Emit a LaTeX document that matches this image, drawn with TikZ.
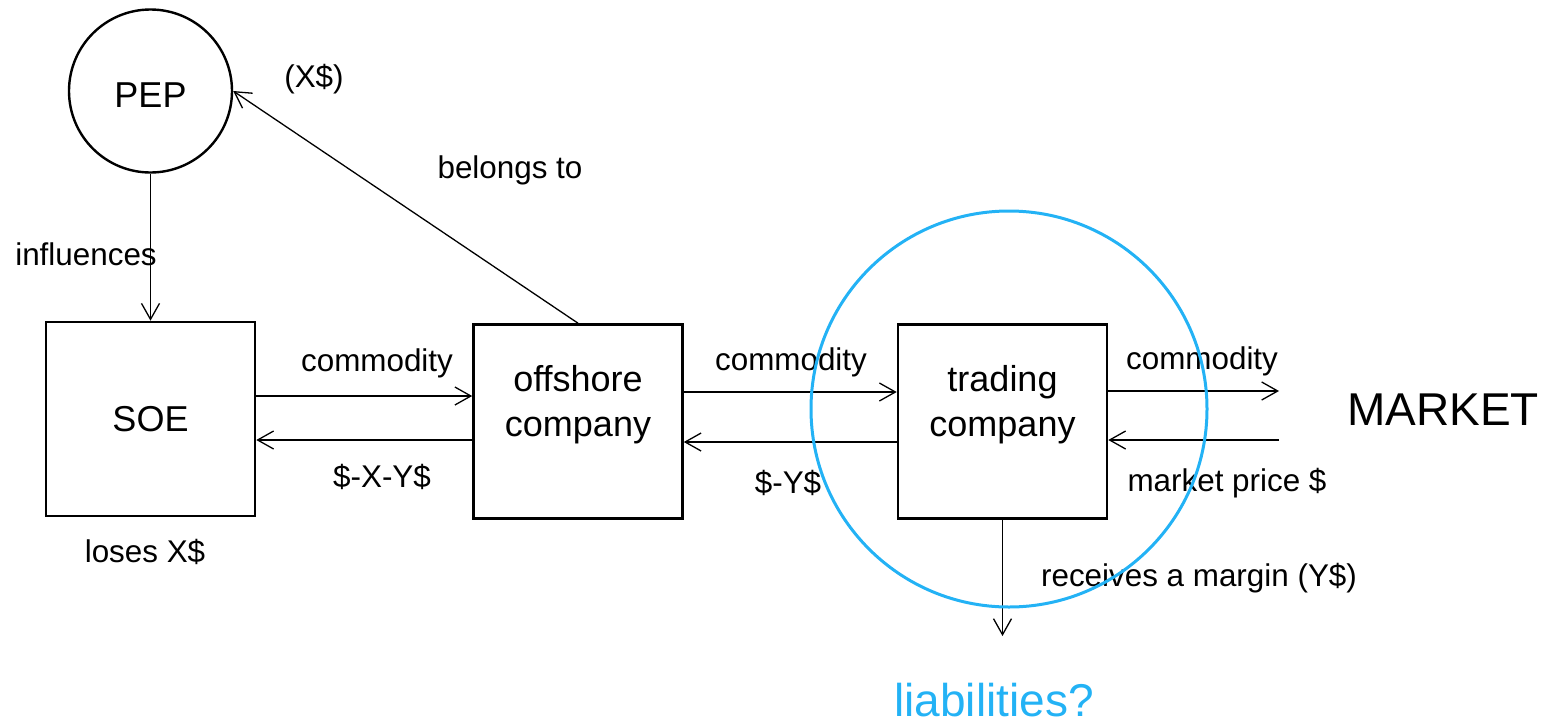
\documentclass[tikz,border=0pt]{standalone}
\usepackage{fontspec}
\setmainfont{Liberation Sans}
\usetikzlibrary{arrows.meta}
\definecolor{riskblue}{RGB}{35,178,245}
\begin{document}
\begin{tikzpicture}[x=1pt,y=-1pt,
  entity/.style={draw,line width=2.6pt,minimum width=209pt,minimum height=194pt,
    inner sep=0pt,align=center,font=\fontsize{36}{44.5}\selectfont},
  person/.style={draw,circle,line width=2.4pt,minimum size=163pt,inner sep=0pt,
    font=\fontsize{36}{44.5}\selectfont},
  flow/.style={line width=1.3pt,-{Straight Barb[length=16pt,width=18pt]}},
  lbl/.style={anchor=base,inner sep=0pt,font=\fontsize{31.4}{38}\selectfont},
  big/.style={anchor=base,inner sep=0pt,font=\fontsize{46}{54}\selectfont}]
\useasboundingbox (0,0) rectangle (1552,726);

% parties
\node[person,text height=32pt] (pep) at (150.5,91) {PEP};
\node[entity] (soe) at (150.5,419) {SOE};
\node[entity,text height=36.6pt] (off) at (578,421.5) {offshore\\company};
\node[entity,text height=36.6pt] (trd) at (1002.5,421.5) {trading\\company};
\node[big] (mkt) at (1443,425) {MARKET};
\node[big,text=riskblue] (liab) at (994,716) {liabilities?};

% levels of the horizontal flows and free ends
\coordinate (ya) at (0,396);
\coordinate (yb) at (0,440);
\coordinate (yc) at (0,392);
\coordinate (yd) at (0,442);
\coordinate (mk1) at (1279,391);
\coordinate (mk2) at (1279,440);
\coordinate (dn) at (0,636);

% flows
\draw[flow] (pep.south) -- (soe.north);
\draw[flow] (off.north) -- (pep.east);
\draw[flow] (soe.east |- ya) -- (off.west |- ya);
\draw[flow] (off.west |- yb) -- (soe.east |- yb);
\draw[flow] (off.east |- yc) -- (trd.west |- yc);
\draw[flow] (trd.west |- yd) -- (off.east |- yd);
\draw[flow] (trd.east |- mk1) -- (mk1);
\draw[flow] (mk2) -- (trd.east |- mk2);
\draw[flow] (trd.south) -- (trd.south |- dn);

% labels
\node[lbl] (influences) at (86,265) {influences};
\node[lbl] (xcut) at (314,87) {(X\$)};
\node[lbl] (belongs) at (510,178) {belongs to};
\node[lbl] (loses) at (145,562) {loses X\$};
\node[lbl] (c1) at (377,371) {commodity};
\node[lbl] (p1) at (382,487) {\$-X-Y\$};
\node[lbl] (c2) at (791,370) {commodity};
\node[lbl] (p2) at (788,493) {\$-Y\$};
\node[lbl] (c3) at (1202,369) {commodity};
\node[lbl] (p3) at (1227,491) {market price \$};
\node[lbl] (margin) at (1199,586) {receives a margin (Y\$)};

% scope of the trading company
\draw[riskblue,line width=3pt] (1009,409) circle[radius=198];
\end{tikzpicture}
\end{document}
